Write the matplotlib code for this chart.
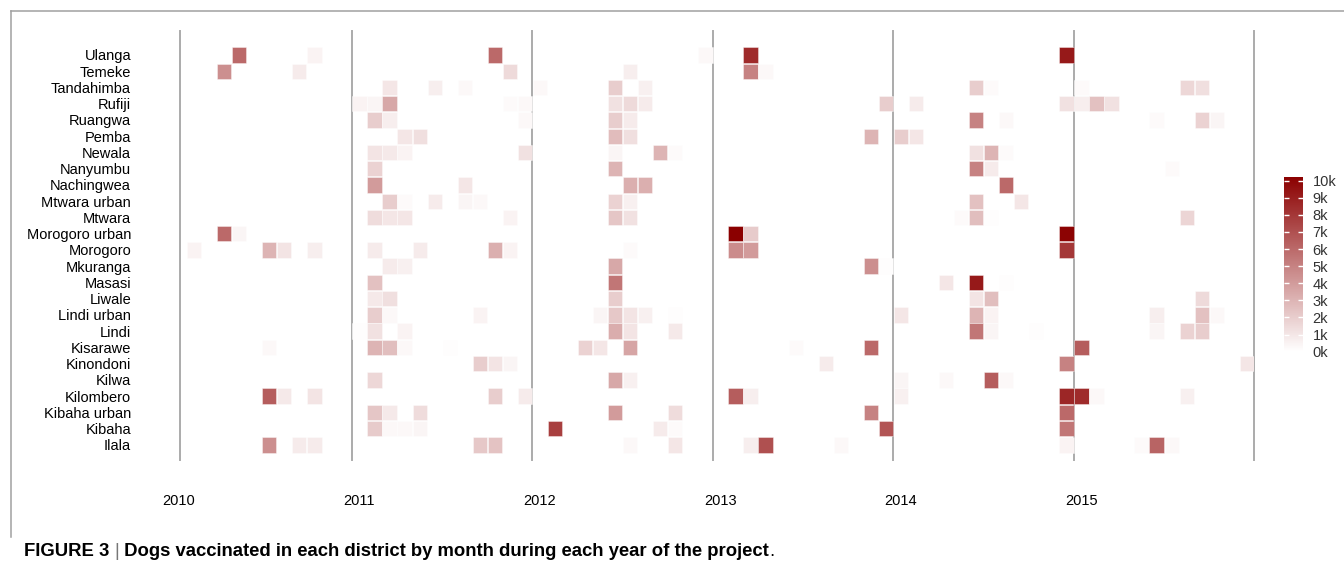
import matplotlib

matplotlib.use("Agg")
import matplotlib.pyplot as plt
import numpy as np
from matplotlib.colors import LinearSegmentedColormap, Normalize
from matplotlib.lines import Line2D
from matplotlib.transforms import blended_transform_factory

plt.rcParams["font.family"] = ["Liberation Sans", "DejaVu Sans"]

# Districts, top row first
districts = [
    "Ulanga", "Temeke", "Tandahimba", "Rufiji", "Ruangwa", "Pemba", "Newala",
    "Nanyumbu", "Nachingwea", "Mtwara urban", "Mtwara", "Morogoro urban",
    "Morogoro", "Mkuranga", "Masasi", "Liwale", "Lindi urban", "Lindi",
    "Kisarawe", "Kinondoni", "Kilwa", "Kilombero", "Kibaha urban", "Kibaha",
    "Ilala",
]
years = [2010, 2011, 2012, 2013, 2014, 2015]

# number of non-empty months per district (same order as districts)
cell_count = [6, 6, 11, 14, 10, 7, 10, 5, 5, 9, 10, 5, 12, 5, 5, 6, 14, 12,
              11, 6, 7, 12, 7, 9, 14]

# month of each vaccination cell
cell_month = [
    "2010-05", "2010-10", "2011-10", "2012-12", "2013-03", "2014-12",  # Ulanga
    "2010-04", "2010-09", "2011-11", "2012-07", "2013-03", "2013-04",  # Temeke
    "2011-03", "2011-06", "2011-08", "2012-01", "2012-06", "2012-08",  # Tandahimba
    "2014-06", "2014-07", "2015-01", "2015-08", "2015-09",
    "2011-01", "2011-02", "2011-03", "2011-11", "2011-12", "2012-06",  # Rufiji
    "2012-07", "2012-08", "2013-12", "2014-02", "2014-12", "2015-01",
    "2015-02", "2015-03",
    "2011-02", "2011-03", "2011-12", "2012-06", "2012-07", "2014-06",  # Ruangwa
    "2014-08", "2015-06", "2015-09", "2015-10",
    "2011-04", "2011-05", "2012-06", "2012-07", "2013-11", "2014-01",  # Pemba
    "2014-02",
    "2011-02", "2011-03", "2011-04", "2011-12", "2012-06", "2012-09",  # Newala
    "2012-10", "2014-06", "2014-07", "2014-08",
    "2011-02", "2012-06", "2014-06", "2014-07", "2015-07",  # Nanyumbu
    "2011-02", "2011-08", "2012-07", "2012-08", "2014-08",  # Nachingwea
    "2011-03", "2011-04", "2011-06", "2011-08", "2011-09", "2012-06",  # Mtwara urban
    "2012-07", "2014-06", "2014-09",
    "2011-02", "2011-03", "2011-04", "2011-11", "2012-06", "2012-07",  # Mtwara
    "2014-05", "2014-06", "2014-07", "2015-08",
    "2010-04", "2010-05", "2013-02", "2013-03", "2014-12",  # Morogoro urban
    "2010-02", "2010-07", "2010-08", "2010-10", "2011-02", "2011-05",  # Morogoro
    "2011-10", "2011-11", "2012-07", "2013-02", "2013-03", "2014-12",
    "2011-03", "2011-04", "2012-06", "2013-11", "2013-12",  # Mkuranga
    "2011-02", "2012-06", "2014-04", "2014-06", "2014-08",  # Masasi
    "2011-02", "2011-03", "2012-06", "2014-06", "2014-07", "2015-09",  # Liwale
    "2011-02", "2011-03", "2011-09", "2012-05", "2012-06", "2012-07",  # Lindi urban
    "2012-08", "2012-10", "2014-01", "2014-06", "2014-07", "2015-06",
    "2015-09", "2015-10",
    "2011-01", "2011-02", "2011-04", "2012-06", "2012-07", "2012-10",  # Lindi
    "2014-06", "2014-07", "2014-10", "2015-06", "2015-08", "2015-09",
    "2010-07", "2011-02", "2011-03", "2011-04", "2011-07", "2012-04",  # Kisarawe
    "2012-05", "2012-07", "2013-06", "2013-11", "2015-01",
    "2011-09", "2011-10", "2011-11", "2013-08", "2014-12", "2015-12",  # Kinondoni
    "2011-02", "2012-06", "2012-07", "2014-01", "2014-04", "2014-07",  # Kilwa
    "2014-08",
    "2010-07", "2010-08", "2010-10", "2011-10", "2011-12", "2013-02",  # Kilombero
    "2013-03", "2014-01", "2014-12", "2015-01", "2015-02", "2015-08",
    "2011-02", "2011-03", "2011-05", "2012-06", "2012-10", "2013-11",  # Kibaha urban
    "2014-12",
    "2011-02", "2011-03", "2011-04", "2011-05", "2012-02", "2012-09",  # Kibaha
    "2012-10", "2013-12", "2014-12",
    "2010-07", "2010-09", "2010-10", "2011-09", "2011-10", "2012-07",  # Ilala
    "2012-10", "2013-03", "2013-04", "2013-09", "2014-12", "2015-05",
    "2015-06", "2015-07",
]

# dogs vaccinated in each cell
cell_dogs = [
    6000, 500, 6000, 300, 8500, 9200,  # Ulanga
    4500, 800, 1500, 700, 5000, 300,  # Temeke
    1000, 700, 300, 300, 2000, 600, 2000, 200, 200, 1600, 1300,  # Tandahimba
    500, 400, 3500, 200, 300, 1200, 1500, 800, 2000, 800, 1200, 700,  # Rufiji
    2500, 1200,
    2000, 700, 300, 2000, 800, 5000, 300, 200, 1800, 400,  # Ruangwa
    1000, 1300, 2700, 1300, 3000, 2000, 1000,  # Pemba
    1100, 900, 500, 1200, 400, 3000, 200, 1200, 3000, 200,  # Newala
    1800, 3000, 5000, 800, 200,  # Nanyumbu
    4000, 1000, 3200, 3200, 6000,  # Nachingwea
    2000, 200, 800, 400, 300, 1800, 600, 2500, 1000,  # Mtwara urban
    1400, 1000, 1000, 500, 2300, 1200, 200, 2600, 100, 1700,  # Mtwara
    6000, 400, 10200, 2100, 10100,  # Morogoro urban
    500, 3000, 1100, 700, 800, 800, 3200, 500, 200, 4600, 4000, 8000,  # Morogoro
    800, 600, 3500, 4500, 100,  # Mkuranga
    2500, 5500, 1000, 9200, 100,  # Masasi
    900, 1300, 2000, 1100, 2600, 1500,  # Liwale
    2000, 300, 500, 400, 2200, 1100, 600, 100, 1000, 3000, 500, 700,  # Lindi urban
    2500, 300,
    100, 1200, 500, 3300, 1100, 900, 5500, 400, 100, 400, 1800, 2000,  # Lindi
    300, 3000, 2600, 300, 100, 1800, 1000, 3600, 200, 6000, 6500,  # Kisarawe
    2000, 1100, 400, 800, 5000, 1000,  # Kinondoni
    1600, 3500, 600, 400, 300, 6500, 300,  # Kilwa
    6500, 900, 1100, 2000, 800, 6500, 700, 600, 8700, 8500, 300, 600,  # Kilombero
    2300, 900, 1400, 4000, 1400, 5000, 6000,  # Kibaha urban
    2100, 300, 300, 400, 7700, 800, 200, 6800, 5500,  # Kibaha
    4500, 800, 800, 2200, 2400, 300, 1000, 700, 7000, 300, 500, 200,  # Ilala
    6200, 300,
]

assert len(cell_month) == len(cell_dogs) == sum(cell_count)

cell_district = np.repeat(districts, cell_count)
row_of = {d: len(districts) - 1 - i for i, d in enumerate(districts)}
rows = np.array([row_of[d] for d in cell_district])
months = np.array([(int(s[:4]) - years[0]) * 12 + int(s[5:]) - 1 for s in cell_month])
dogs = np.array(cell_dogs, dtype=float)

cmap = LinearSegmentedColormap.from_list("wr", ["#FFFFFF", "#8B0000"])
norm = Normalize(vmin=0, vmax=10230)

W, H = 1344, 569
fig = plt.figure(figsize=(W / 100, H / 100), dpi=100)
ax = fig.add_axes([179.0 / W, 1 - 460.4 / H, 1075.4 / W, 429.8 / H])

# year separators
ax.axvline(0.55, color="#ABABAB", lw=1.4, clip_on=False, zorder=1)
for k in range(1, 7):
    ax.axvline(12 * k, color="#ABABAB", lw=1.4, clip_on=False, zorder=1)

# tiles
ax.bar(months + 0.5, 0.95, width=0.95, bottom=rows - 0.475,
       color=cmap(norm(dogs)), edgecolor=(1, 1, 1, 0.45), linewidth=0.6,
       zorder=2)

ax.set_xlim(0.5, 72)
ax.set_ylim(-0.95, 25.5)
for s in ax.spines.values():
    s.set_visible(False)
ax.set_xticks([])
ax.set_yticks(range(len(districts)))
ax.set_yticklabels(districts[::-1], fontsize=10.5, color="black")
ax.tick_params(axis="y", length=0, pad=34.5)

trans = blended_transform_factory(ax.transData, ax.transAxes)
for k, yr in enumerate(years):
    ax.text(12 * k + 0.5, -0.095, str(yr), transform=trans, ha="center",
            va="center", fontsize=10.5, clip_on=False)

# colour bar
cax = fig.add_axes([1284.0 / W, 1 - 351.7 / H, 18.7 / W, 175.0 / H])
sm = plt.cm.ScalarMappable(norm=norm, cmap=cmap)
cb = fig.colorbar(sm, cax=cax)
cb.outline.set_visible(False)
cb.set_ticks(np.arange(0, 10001, 1000))
cb.set_ticklabels([f"{v}k" for v in range(11)])
cax.tick_params(axis="y", direction="in", length=3.5, width=1, color="white",
                left=True, right=True, labelsize=10.5, labelcolor="#333333", pad=7)

# panel frame
fig.add_artist(Line2D([10.5 / W, 1], [1 - 10.5 / H, 1 - 10.5 / H],
                      color="#A0A0A0", lw=1.1))
fig.add_artist(Line2D([10.5 / W, 10.5 / W], [1 - 10.5 / H, 1 - 537 / H],
                      color="#A0A0A0", lw=1.1))

# caption
r = fig.canvas.get_renderer()
x0 = 24.0
ycap = 1 - 552 / H
parts = [("FIGURE 3 ", "bold", "black"), ("|", "normal", "#777777"),
         (" Dogs vaccinated in each district by month during each year of the project",
          "bold", "black"), (".", "normal", "black")]
for txt, wt, col in parts:
    t = fig.text(x0 / W, ycap, txt, fontsize=13.3, fontweight=wt, color=col,
                 ha="left", va="center")
    x0 += t.get_window_extent(renderer=r).width

fig.savefig("out.png", dpi=100)
